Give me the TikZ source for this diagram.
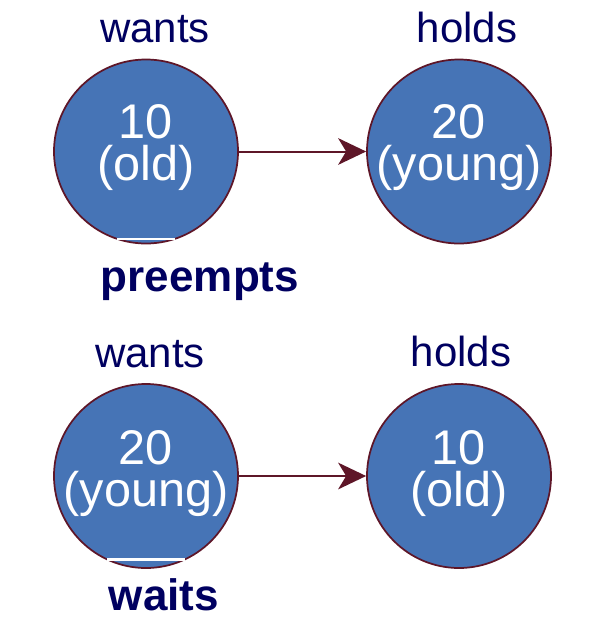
\documentclass[tikz,border=0pt]{standalone}
\usepackage{fontspec}
\setmainfont{Liberation Sans}
\usetikzlibrary{arrows.meta}
\definecolor{cfill}{RGB}{70,116,182}
\definecolor{cedge}{RGB}{94,22,40}
\definecolor{navy}{RGB}{0,0,96}
\begin{document}
\begin{tikzpicture}[x=0.75pt,y=-0.75pt,
  proc/.style={circle, draw=cedge, line width=1.3pt, fill=cfill, minimum size=138pt, inner sep=0pt},
  intext/.style={text=white, font=\fontsize{36.5}{31.5}\selectfont, align=center, anchor=base, inner sep=0pt},
  lbl/.style={text=navy, font=\fontsize{31.5}{31.5}\selectfont, anchor=base, inner sep=0pt},
  blbl/.style={text=navy, font=\bfseries\fontsize{33}{33}\selectfont, anchor=base, inner sep=0pt},
  link/.style={draw=cedge, line width=1.5pt, -{Stealth[length=21pt,width=20pt,inset=6pt]}},
  gap/.style={draw=white, line width=1.6pt}
]
\useasboundingbox (0,0) rectangle (611,640);
% top row
\node[proc] (a) at (146,151.5) {};
\node[proc] (b) at (459,151.5) {};
\draw[link] (a) -- (b);
\node[intext] (at) at (146,180) {10\\(old)};
\node[intext] (bt) at (459,180) {20\\(young)};
\node[lbl] (la) at (155,42) {wants};
\node[lbl] (lb) at (467,42) {holds};
\coordinate (ga1) at (117,239);
\coordinate (ga2) at (175,239);
\draw[gap] (ga1) -- (ga2);
\node[blbl] (pa) at (200,291) {preempts};
% bottom row
\node[proc] (c) at (146,476) {};
\node[proc] (d) at (459,476) {};
\draw[link] (c) -- (d);
\node[intext] (ct) at (146,506) {20\\(young)};
\node[intext] (dt) at (459,506) {10\\(old)};
\node[lbl] (lc) at (150,367) {wants};
\node[lbl] (ld) at (461,366) {holds};
\coordinate (gc1) at (107,559.5);
\coordinate (gc2) at (185,559.5);
\draw[gap] (gc1) -- (gc2);
\node[blbl] (pc) at (164,610) {waits};
\end{tikzpicture}
\end{document}
